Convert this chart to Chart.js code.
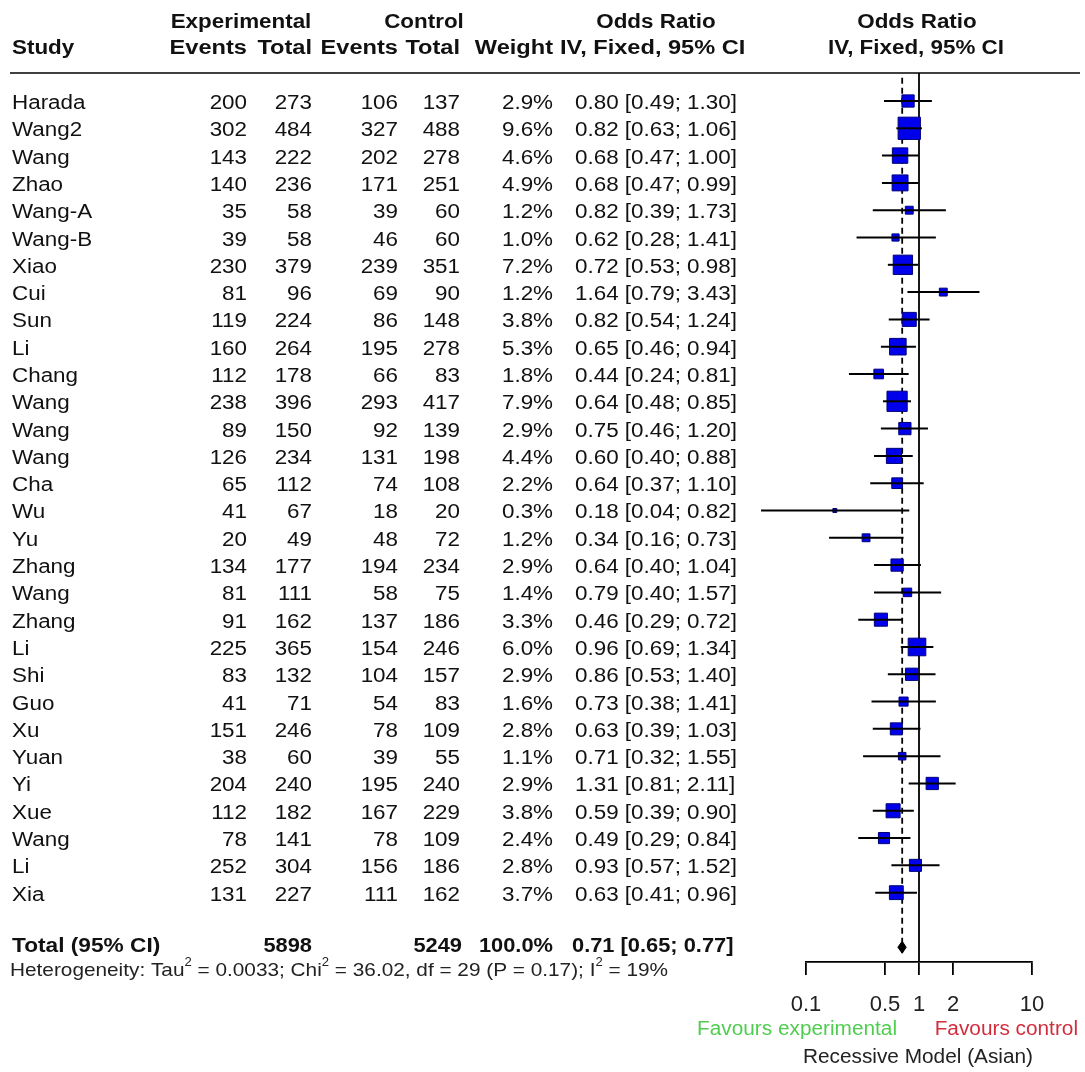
<!DOCTYPE html>
<html>
<head>
<meta charset="utf-8">
<script src="https://cdn.jsdelivr.net/npm/chart.js@4.4.1/dist/chart.umd.min.js"></script>
<style>
  body { margin: 0; background: #fff; }
  #wrap { position: relative; width: 1085px; height: 1072px; }
</style>
</head>
<body>
<div id="wrap"><canvas id="forest"></canvas></div>
<script>
// study rows
const studies = ['Harada', 'Wang2', 'Wang', 'Zhao', 'Wang-A', 'Wang-B', 'Xiao', 'Cui', 'Sun', 'Li',
    'Chang', 'Wang', 'Wang', 'Wang', 'Cha', 'Wu', 'Yu', 'Zhang', 'Wang', 'Zhang',
    'Li', 'Shi', 'Guo', 'Xu', 'Yuan', 'Yi', 'Xue', 'Wang', 'Li', 'Xia'];
const expEvents = [200, 302, 143, 140, 35, 39, 230, 81, 119, 160, 112, 238, 89, 126, 65, 41, 20, 134, 81, 91, 225, 83, 41, 151, 38, 204, 112, 78, 252, 131];
const expTotal = [273, 484, 222, 236, 58, 58, 379, 96, 224, 264, 178, 396, 150, 234, 112, 67, 49, 177, 111, 162, 365, 132, 71, 246, 60, 240, 182, 141, 304, 227];
const ctrlEvents = [106, 327, 202, 171, 39, 46, 239, 69, 86, 195, 66, 293, 92, 131, 74, 18, 48, 194, 58, 137, 154, 104, 54, 78, 39, 195, 167, 78, 156, 111];
const ctrlTotal = [137, 488, 278, 251, 60, 60, 351, 90, 148, 278, 83, 417, 139, 198, 108, 20, 72, 234, 75, 186, 246, 157, 83, 109, 55, 240, 229, 109, 186, 162];
const weights = [2.9, 9.6, 4.6, 4.9, 1.2, 1.0, 7.2, 1.2, 3.8, 5.3, 1.8, 7.9, 2.9, 4.4, 2.2, 0.3, 1.2, 2.9, 1.4, 3.3, 6.0, 2.9, 1.6, 2.8, 1.1, 2.9, 3.8, 2.4, 2.8, 3.7];
const oddsRatio = [0.80, 0.82, 0.68, 0.68, 0.82, 0.62, 0.72, 1.64, 0.82, 0.65, 0.44, 0.64, 0.75, 0.60, 0.64, 0.18, 0.34, 0.64, 0.79, 0.46, 0.96, 0.86, 0.73, 0.63, 0.71, 1.31, 0.59, 0.49, 0.93, 0.63];
const ciLow = [0.49, 0.63, 0.47, 0.47, 0.39, 0.28, 0.53, 0.79, 0.54, 0.46, 0.24, 0.48, 0.46, 0.40, 0.37, 0.04, 0.16, 0.40, 0.40, 0.29, 0.69, 0.53, 0.38, 0.39, 0.32, 0.81, 0.39, 0.29, 0.57, 0.41];
const ciHigh = [1.30, 1.06, 1.00, 0.99, 1.73, 1.41, 0.98, 3.43, 1.24, 0.94, 0.81, 0.85, 1.20, 0.88, 1.10, 0.82, 0.73, 1.04, 1.57, 0.72, 1.34, 1.40, 1.41, 1.03, 1.55, 2.11, 0.90, 0.84, 1.52, 0.96];

// pooled result
const totalExp = 5898;
const totalCtrl = 5249;
const totalWeight = 100.0;
const totalOR = 0.71;
const totalLow = 0.65;
const totalHigh = 0.77;

const xTicks = [0.1, 0.5, 1, 2, 10];

const FONT = "'Liberation Sans', Arial, sans-serif";
const TOTAL_ROW = 31;
const Y_MIN = -1.026, Y_MAX = 31.54;

function txt(ctx, s, x, y, opt) {
    const o = Object.assign({ size: 20, weight: 'normal', align: 'left', color: '#111', sx: 1.12 }, opt || {});
    ctx.save();
    ctx.font = o.weight + ' ' + o.size + 'px ' + FONT;
    ctx.fillStyle = o.color;
    ctx.textBaseline = 'middle';
    ctx.textAlign = 'left';
    const w = ctx.measureText(s).width * o.sx;
    let left = x;
    if (o.align === 'right') left = x - w;
    if (o.align === 'center') left = x - w / 2;
    ctx.translate(left, y);
    ctx.scale(o.sx, 1);
    ctx.fillText(s, 0, 0);
    ctx.restore();
    return left + w;
}

function fmtCI(or, lo, hi) {
    return or.toFixed(2) + ' [' + lo.toFixed(2) + '; ' + hi.toFixed(2) + ']';
}

// table text + header rule
const tablePlugin = {
    id: 'tableText',
    afterDraw(chart) {
        const ctx = chart.ctx;
        const yScale = chart.scales.y;

        // headers
        const hb = { weight: 'bold' };
        const hw = { weight: 'bold', sx: 1.18 };
        txt(ctx, 'Experimental', 241, 22, Object.assign({ align: 'center' }, hb));
        txt(ctx, 'Control', 424, 22, Object.assign({ align: 'center' }, hb));
        txt(ctx, 'Odds Ratio', 656, 22, Object.assign({ align: 'center' }, hb));
        txt(ctx, 'Odds Ratio', 917, 22, Object.assign({ align: 'center' }, hb));
        txt(ctx, 'Study', 12, 48, hb);
        txt(ctx, 'Events', 247, 48, Object.assign({ align: 'right' }, hw));
        txt(ctx, 'Total', 312, 48, Object.assign({ align: 'right' }, hw));
        txt(ctx, 'Events', 398, 48, Object.assign({ align: 'right' }, hw));
        txt(ctx, 'Total', 460, 48, Object.assign({ align: 'right' }, hw));
        txt(ctx, 'Weight', 553, 48, Object.assign({ align: 'right' }, hw));
        txt(ctx, 'IV, Fixed, 95% CI', 560, 48, hw);
        txt(ctx, 'IV, Fixed, 95% CI', 916, 48, Object.assign({ align: 'center' }, hb));

        ctx.save();
        ctx.strokeStyle = '#000';
        ctx.lineWidth = 1.5;
        ctx.beginPath();
        ctx.moveTo(10, 73);
        ctx.lineTo(1080, 73);
        ctx.stroke();
        ctx.restore();

        // study rows
        for (let i = 0; i < studies.length; i++) {
            const y = yScale.getPixelForValue(i) + 2.5;
            txt(ctx, studies[i], 12, y);
            txt(ctx, String(expEvents[i]), 247, y, { align: 'right' });
            txt(ctx, String(expTotal[i]), 312, y, { align: 'right' });
            txt(ctx, String(ctrlEvents[i]), 398, y, { align: 'right' });
            txt(ctx, String(ctrlTotal[i]), 460, y, { align: 'right' });
            txt(ctx, weights[i].toFixed(1) + '%', 553, y, { align: 'right' });
            txt(ctx, fmtCI(oddsRatio[i], ciLow[i], ciHigh[i]), 575, y);
        }

        // total row
        const ty = yScale.getPixelForValue(TOTAL_ROW) - 1.5;
        const tb = { weight: 'bold', sx: 1.04, size: 21 };
        txt(ctx, 'Total (95% CI)', 12, ty, Object.assign({}, tb, { sx: 1.08 }));
        txt(ctx, String(totalExp), 312, ty, Object.assign({ align: 'right' }, tb));
        txt(ctx, String(totalCtrl), 462, ty, Object.assign({ align: 'right' }, tb));
        txt(ctx, totalWeight.toFixed(1) + '%', 553, ty, Object.assign({ align: 'right' }, tb));
        txt(ctx, fmtCI(totalOR, totalLow, totalHigh), 572, ty, tb);

        // heterogeneity line
        const parts = [
            ['Heterogeneity: Tau', false], ['2', true], [' = 0.0033; Chi', false], ['2', true],
            [' = 36.02, df = 29 (P = 0.17); I', false], ['2', true], [' = 19%', false]
        ];
        ctx.save();
        let total = 0;
        parts.forEach(p => {
            ctx.font = (p[1] ? 12 : 19) + 'px ' + FONT;
            total += ctx.measureText(p[0]).width;
        });
        ctx.restore();
        const hsx = 658 / total;
        let hx = 10;
        const hy = 971;
        parts.forEach(p => {
            hx = txt(ctx, p[0], hx, p[1] ? hy - 8 : hy, { size: p[1] ? 12 : 19, sx: hsx, color: '#222' });
        });

        // favours / model labels
        txt(ctx, 'Favours experimental', 697, 1029, { color: 'rgb(80,205,80)', sx: 1.04 });
        txt(ctx, 'Favours control', 1078, 1029, { align: 'right', color: 'rgb(210,45,60)', sx: 1.04 });
        txt(ctx, 'Recessive Model (Asian)', 918, 1057, { align: 'center', color: '#222', sx: 1.04 });
    }
};

const ciSets = studies.map((s, i) => ({
    type: 'line',
    data: [{ x: ciLow[i], y: i }, { x: ciHigh[i], y: i }],
    borderColor: '#000',
    borderWidth: 2,
    pointRadius: 0,
    clip: false,
    order: 0
}));

const boxSet = {
    type: 'scatter',
    data: studies.map((s, i) => ({ x: oddsRatio[i], y: i })),
    pointStyle: 'rect',
    pointRadius: c => 7.2 * Math.sqrt(weights[c.dataIndex]) / Math.SQRT2,
    pointHoverRadius: c => 7.2 * Math.sqrt(weights[c.dataIndex]) / Math.SQRT2,
    backgroundColor: 'rgb(0,0,235)',
    borderColor: '#00007a',
    borderWidth: 1,
    clip: false,
    order: 2
};

const refLine = {
    type: 'line',
    data: [{ x: 1, y: Y_MIN }, { x: 1, y: Y_MAX }],
    borderColor: '#000',
    borderWidth: 1.8,
    pointRadius: 0,
    order: 3
};

const pooledLine = {
    type: 'line',
    data: [{ x: totalOR, y: -0.85 }, { x: totalOR, y: 31.2 }],
    borderColor: '#000',
    borderWidth: 1.8,
    borderDash: [6, 4],
    pointRadius: 0,
    order: 3
};

const diamond = {
    type: 'line',
    data: [
        { x: totalLow, y: TOTAL_ROW }, { x: totalOR, y: TOTAL_ROW - 0.22 },
        { x: totalHigh, y: TOTAL_ROW }, { x: totalOR, y: TOTAL_ROW + 0.22 },
        { x: totalLow, y: TOTAL_ROW }
    ],
    borderColor: '#000',
    backgroundColor: '#000',
    borderWidth: 1,
    fill: 'shape',
    pointRadius: 0,
    tension: 0,
    order: 1
};

new Chart(document.getElementById('forest'), {
    type: 'scatter',
    data: { datasets: [...ciSets, boxSet, refLine, pooledLine, diamond] },
    options: {
        responsive: true,
        maintainAspectRatio: false,
        animation: false,
        events: [],
        layout: { padding: { left: 806, right: 53, top: 73, bottom: 0 } },
        plugins: { legend: { display: false }, tooltip: { enabled: false } },
        scales: {
            x: {
                type: 'logarithmic',
                min: 0.1,
                max: 10,
                afterBuildTicks: s => { s.ticks = xTicks.map(v => ({ value: v })); },
                afterFit: s => { s.height = 110; },
                ticks: {
                    font: { family: FONT, size: 22 },
                    color: '#222',
                    padding: 17,
                    maxRotation: 0,
                    autoSkip: false,
                    callback: v => String(v)
                },
                grid: { drawOnChartArea: false, drawTicks: true, tickLength: 13, color: '#000', lineWidth: 1.8 },
                border: { display: true, color: '#000', width: 1.8 }
            },
            y: {
                type: 'linear',
                min: Y_MIN,
                max: Y_MAX,
                reverse: true,
                display: false
            }
        }
    },
    plugins: [tablePlugin]
});
</script>
</body>
</html>
